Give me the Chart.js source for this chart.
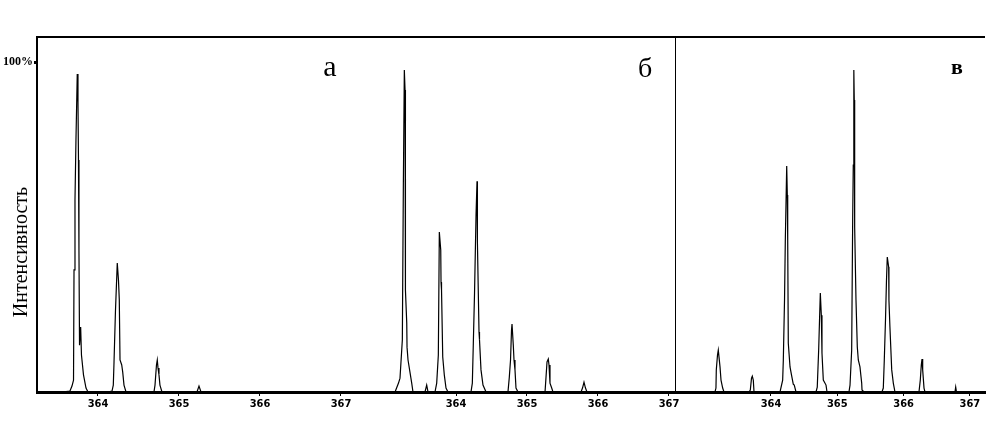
<!DOCTYPE html>
<html>
<head>
<meta charset="utf-8">
<script src="https://cdn.jsdelivr.net/npm/chart.js@4/dist/chart.umd.min.js"></script>
<style>
  html, body { margin: 0; padding: 0; background: #fff; }
  canvas { display: block; }
</style>
</head>
<body>
<canvas id="chartContainer" width="994" height="429"></canvas>
<script>
// m/z and intensity (%)
const mzA = [363.247, 363.556, 363.654, 363.679, 363.698, 363.704, 363.716, 363.728, 363.744, 363.753, 363.759, 363.765, 363.772, 363.786, 363.796, 363.821, 363.852, 363.877,
  364.123, 364.173, 364.189, 364.198, 364.216, 364.238, 364.253, 364.263, 364.272, 364.293, 364.305, 364.321, 364.346,
  364.691, 364.704, 364.722, 364.732, 364.741, 364.753, 364.765, 364.790,
  365.222, 365.247, 365.272, 367.025];
const intA = [0, 0, 0.3, 1.8, 3.6, 37.0, 58.2, 76.4, 96.4, 87.9, 70.3, 43.0, 14.2, 19.7, 11.2, 5.2, 1.2, 0,
  0, 0.3, 2.1, 9.1, 24.8, 39.1, 33.9, 27.9, 9.7, 8.2, 6.1, 2.1, 0,
  0, 2.1, 8.2, 9.7, 7.3, 5.2, 2.1, 0,
  0, 1.8, 0, 0];

const mzB = [362.408, 363.141, 363.190, 363.211, 363.244, 363.258, 363.272, 363.282, 363.286, 363.289, 363.306, 363.310, 363.324, 363.376, 363.394,
  363.563, 363.587, 363.606,
  363.704, 363.728, 363.751, 363.765, 363.785, 363.789, 363.796, 363.813, 363.835, 363.859, 363.887,
  364.211, 364.230, 364.244, 364.261, 364.282, 364.296, 364.300, 364.303, 364.324, 364.331, 364.352, 364.380, 364.423,
  364.732, 364.751, 364.768, 364.782, 364.789, 364.807, 364.817, 364.831, 364.845, 364.873,
  365.254, 365.268, 365.282, 365.300, 365.310, 365.324, 365.348, 365.366,
  365.761, 365.782, 365.803, 365.824, 365.845, 367.085];
const intB = [0, 0, 2.7, 4.2, 15.8, 62.1, 97.6, 91.5, 61.8, 30.9, 20.9, 13.6, 9.7, 2.7, 0,
  0, 2.1, 0,
  0, 2.7, 11.2, 48.5, 43.0, 33.3, 30.9, 10.6, 5.2, 1.2, 0,
  0, 2.7, 14.8, 30.0, 53.6, 63.9, 58.2, 45.5, 18.2, 15.8, 6.7, 2.1, 0,
  0, 4.5, 9.7, 18.8, 20.6, 14.2, 9.7, 6.7, 1.2, 0,
  0, 4.5, 9.1, 10.0, 8.2, 2.7, 1.2, 0,
  0, 1.2, 3.0, 1.2, 0, 0];

const mzC = [362.552, 363.155, 363.170, 363.175, 363.193, 363.205, 363.231, 363.246, 363.271, 363.291,
  363.668, 363.688, 363.706, 363.718, 363.733, 363.744,
  364.136, 364.176, 364.186, 364.204, 364.216, 364.237, 364.246, 364.252, 364.261, 364.287, 364.309, 364.336, 364.351, 364.377,
  364.679, 364.698, 364.719, 364.732, 364.744, 364.759, 364.769, 364.789, 364.830, 364.845,
  365.176, 365.192, 365.217, 365.232, 365.241, 365.247, 365.252, 365.256, 365.262, 365.282, 365.302, 365.317, 365.342, 365.368, 365.373, 365.403,
  365.674, 365.694, 365.709, 365.727, 365.742, 365.754, 365.775, 365.779, 365.794, 365.821, 365.845, 365.870,
  366.232, 366.252, 366.267, 366.278, 366.288, 366.308, 366.323,
  366.775, 366.786, 366.798, 367.228];
const intC = [0, 0, 1.2, 6.7, 11.2, 12.7, 7.6, 3.6, 1.2, 0,
  0, 0.6, 4.2, 4.8, 3.6, 0,
  0, 3.6, 9.7, 27.9, 46.1, 68.5, 59.7, 46.1, 14.8, 7.6, 5.2, 2.4, 2.1, 0,
  0, 1.5, 12.7, 21.8, 30.0, 23.3, 11.8, 3.6, 2.1, 0,
  0, 2.1, 12.7, 52.1, 68.8, 90.6, 97.6, 88.5, 50.0, 27.9, 13.6, 9.7, 7.6, 2.7, 0.6, 0,
  0, 1.2, 9.7, 21.8, 33.9, 40.9, 37.9, 27.9, 19.7, 6.7, 2.7, 0,
  0, 3.6, 8.2, 10.0, 6.7, 1.2, 0,
  0, 1.5, 0, 0];

// axis ranges of each panel and the tick labels
const rangeA = [363.247, 367.025];
const rangeB = [362.408, 367.085];
const rangeC = [362.552, 367.228];
const mzTicks = [364, 365, 366, 367];
const yTicks = [100];
const panelLabels = ['а', 'б', 'в'];

function toPoints(xs, ys) {
  return xs.map((m, i) => ({ x: m, y: ys[i] }));
}

function xScale(range, weight) {
  return {
    type: 'linear',
    position: 'bottom',
    stack: 'mz',
    stackWeight: weight,
    min: range[0],
    max: range[1],
    afterBuildTicks: (scale) => { scale.ticks = mzTicks.map(v => ({ value: v })); },
    afterFit: (scale) => {
      scale.height = 37;
      // labels at the panel joins must not shrink the plot area
      scale.paddingLeft = 0;
      scale.paddingRight = 0;
    },
    border: { display: true, color: '#000', width: 3 },
    grid: { display: true, drawOnChartArea: false, drawTicks: true, tickLength: 4, color: '#000', lineWidth: 1 },
    ticks: {
      autoSkip: false,
      maxRotation: 0,
      padding: 2,
      color: '#000',
      font: { family: '"Liberation Sans Narrow", "DejaVu Sans Condensed", sans-serif', size: 11, weight: 'bold' }
    }
  };
}

function lineSet(xs, ys, axisId) {
  return {
    data: toPoints(xs, ys),
    xAxisID: axisId,
    yAxisID: 'y',
    borderColor: '#000',
    borderWidth: 1.2,
    pointRadius: 0,
    tension: 0,
    fill: false
  };
}

// frame, divider, panel letters and the y title
const decorations = {
  id: 'decorations',
  afterDraw(chart) {
    const ctx = chart.ctx;
    const area = chart.chartArea;
    const s = chart.scales;
    ctx.save();
    ctx.strokeStyle = '#000';
    ctx.lineWidth = 2;
    ctx.beginPath();
    ctx.moveTo(area.left, area.top);
    ctx.lineTo(area.right, area.top);
    ctx.stroke();
    ctx.lineWidth = 1;
    ctx.beginPath();
    ctx.moveTo(Math.round(s.xc.left) + 0.5, area.top);
    ctx.lineTo(Math.round(s.xc.left) + 0.5, area.bottom);
    ctx.stroke();

    ctx.fillStyle = '#000';
    ctx.textAlign = 'center';
    ctx.textBaseline = 'alphabetic';
    ctx.font = '30px "Liberation Serif", serif';
    ctx.fillText(panelLabels[0], s.xa.right - 13, 76);
    ctx.font = '28px "Liberation Serif", serif';
    ctx.fillText(panelLabels[1], s.xb.right - 30, 77);
    ctx.font = 'bold 22px "Liberation Serif", serif';
    ctx.fillText(panelLabels[2], s.xc.right - 28, 74);

    ctx.translate(22, 252);
    ctx.rotate(-Math.PI / 2);
    ctx.font = '20px "Liberation Serif", serif';
    ctx.textBaseline = 'middle';
    ctx.fillText('Интенсивность', 0, 0);
    ctx.restore();
  }
};

let chart = new Chart(document.getElementById('chartContainer'), {
  type: 'line',
  data: {
    datasets: [
      lineSet(mzA, intA, 'xa'),
      lineSet(mzB, intB, 'xb'),
      lineSet(mzC, intC, 'xc')
    ]
  },
  options: {
    responsive: false,
    animation: false,
    layout: { padding: { top: 37, right: 9, bottom: 0, left: 0 } },
    plugins: { legend: { display: false }, tooltip: { enabled: false } },
    scales: {
      xa: xScale(rangeA, 306),
      xb: xScale(rangeB, 332),
      xc: xScale(rangeC, 310),
      y: {
        type: 'linear',
        position: 'left',
        min: 0,
        max: 107.6,
        afterBuildTicks: (scale) => { scale.ticks = yTicks.map(v => ({ value: v })); },
        afterFit: (scale) => { scale.width = 37; },
        border: { display: true, color: '#000', width: 2, dash: [3, 1] },
        grid: { display: true, drawOnChartArea: false, drawTicks: true, tickLength: 3, color: '#000', lineWidth: 3 },
        ticks: {
          padding: 1,
          color: '#000',
          font: { family: '"Liberation Serif", serif', size: 12, weight: 'bold' },
          callback: (v) => v + '%'
        }
      }
    }
  },
  plugins: [decorations]
});
</script>
</body>
</html>
